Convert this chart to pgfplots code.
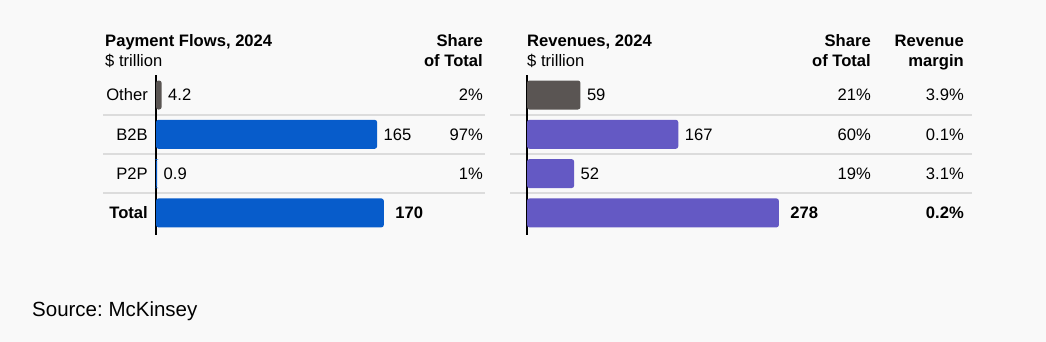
\documentclass[border=0pt]{standalone}
\usepackage{fontspec}
\setmainfont{Liberation Sans}
\usepackage{pgfplots}
\pgfplotsset{compat=1.18}
\frenchspacing
\definecolor{bgc}{HTML}{F9F9F9}
\definecolor{cgray}{HTML}{5A5553}
\definecolor{cblue}{HTML}{075CCB}
\definecolor{cpurple}{HTML}{6459C4}
\definecolor{csep}{HTML}{DCDCDC}
\newcommand{\fs}{\fontsize{16.6}{19}\selectfont}
\begin{document}
\begin{tikzpicture}
\fill[bgc] (0pt,0pt) rectangle (1046pt,-342pt);
% separators
\foreach \yy in {115,154,193}{
  \draw[csep, line width=1.6pt] (103pt,-\yy pt) -- (485pt,-\yy pt);
  \draw[csep, line width=1.6pt] (510pt,-\yy pt) -- (972pt,-\yy pt);
}
% headers
\node[anchor=base west, inner sep=0pt, font=\fs\bfseries] at (105pt,-46.5pt) {Payment Flows, 2024};
\node[anchor=base west, inner sep=0pt, font=\fs] at (105pt,-66.5pt) {\$ trillion};
\node[anchor=base east, inner sep=0pt, font=\fs\bfseries] at (483pt,-46.5pt) {Share};
\node[anchor=base east, inner sep=0pt, font=\fs\bfseries] at (483pt,-66.5pt) {of Total};
\node[anchor=base west, inner sep=0pt, font=\fs\bfseries] at (527pt,-46.5pt) {Revenues, 2024};
\node[anchor=base west, inner sep=0pt, font=\fs] at (527pt,-66.5pt) {\$ trillion};
\node[anchor=base east, inner sep=0pt, font=\fs\bfseries] at (871pt,-46.5pt) {Share};
\node[anchor=base east, inner sep=0pt, font=\fs\bfseries] at (871pt,-66.5pt) {of Total};
\node[anchor=base east, inner sep=0pt, font=\fs\bfseries] at (964pt,-46.5pt) {Revenue};
\node[anchor=base east, inner sep=0pt, font=\fs\bfseries] at (964pt,-66.5pt) {margin};
\node[anchor=base west, inner sep=0pt, font=\fontsize{20.5}{24}\selectfont] at (32pt,-316pt) {Source: McKinsey};

\pgfplotsset{panel/.style={
  scale only axis, height=160pt,
  xmin=0, ymin=-0.509, ymax=3.562, y dir=reverse,
  axis x line=none, axis y line=left,
  y axis line style={-, line width=2.2pt, black},
  ytick={0,1,2,3}, major tick length=0pt,
  clip=false,
  /pgf/number format/assume math mode=true,
  /pgf/bar shift=0pt, bar width=29pt,
  every node near coord/.append style={font=\fs, xshift=3pt},
  yticklabel style={font=\fs, inner sep=0pt, xshift=-8pt},
}}

% left panel
\begin{axis}[panel, at={(156pt,-75pt)}, anchor=north west, width=327pt, xmax=244,
  yticklabels={Other,B2B,P2P,\textbf{Total}}]
\addplot[xbar, fill=cgray, draw=none, rounded corners=2.5pt, nodes near coords] coordinates {(4.2,0)};
\addplot[xbar, fill=cblue, draw=none, rounded corners=2.5pt, nodes near coords] coordinates {(165,1) (0.9,2)};
\addplot[xbar, fill=cblue, draw=none, rounded corners=2.5pt, nodes near coords,
  nodes near coords style={font=\fs\bfseries, xshift=5pt}] coordinates {(170,3)};
\begin{scope}[every node/.style={anchor=east, inner sep=0pt, font=\fs}]
\node at (axis cs:244,0) {2\%};
\node at (axis cs:244,1) {97\%};
\node at (axis cs:244,2) {1\%};
\end{scope}
\end{axis}

% right panel
\begin{axis}[panel, at={(527pt,-75pt)}, anchor=north west, width=437pt, xmax=482.3,
  yticklabels={}]
\addplot[xbar, fill=cgray, draw=none, rounded corners=2.5pt, nodes near coords] coordinates {(59,0)};
\addplot[xbar, fill=cpurple, draw=none, rounded corners=2.5pt, nodes near coords] coordinates {(167,1) (52,2)};
\addplot[xbar, fill=cpurple, draw=none, rounded corners=2.5pt, nodes near coords,
  nodes near coords style={font=\fs\bfseries, xshift=5pt}] coordinates {(278,3)};
\begin{scope}[every node/.style={anchor=east, inner sep=0pt, font=\fs}]
\node at (axis cs:379.7,0) {21\%};
\node at (axis cs:379.7,1) {60\%};
\node at (axis cs:379.7,2) {19\%};
\node at (axis cs:482.3,0) {3.9\%};
\node at (axis cs:482.3,1) {0.1\%};
\node at (axis cs:482.3,2) {3.1\%};
\node[font=\fs\bfseries] at (axis cs:482.3,3) {0.2\%};
\end{scope}
\end{axis}
\end{tikzpicture}
\end{document}
